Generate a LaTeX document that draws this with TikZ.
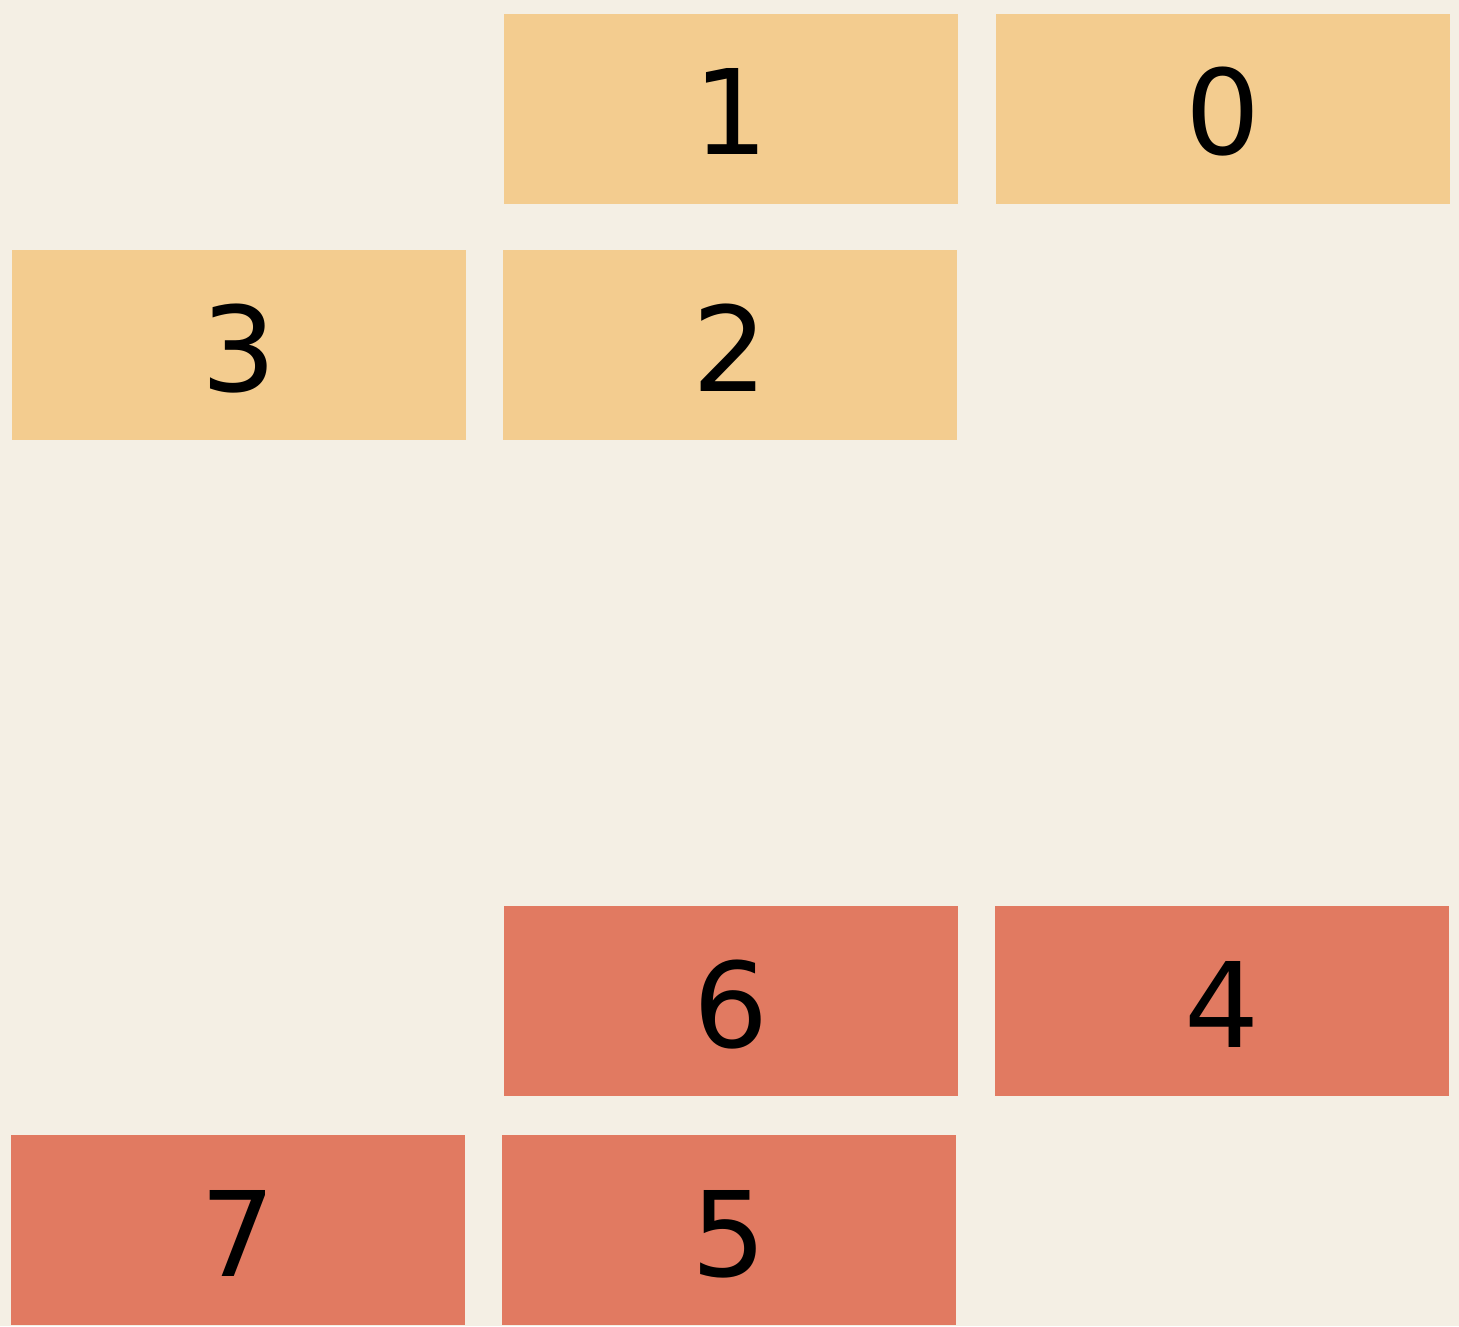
\documentclass[tikz,border=0pt]{standalone}
\usepackage{fontspec}
\setmainfont{DejaVu Sans}
\definecolor{bgc}{HTML}{F4EFE4}
\definecolor{ylw}{HTML}{F3CC8F}
\definecolor{rdc}{HTML}{E17A61}
\begin{document}
\begin{tikzpicture}[x=0.5pt,y=-0.5pt,
  cell/.style={minimum width=227pt,minimum height=95pt,inner sep=0pt,outer sep=0pt,
    text height=46pt,text depth=0pt,
    font=\fontsize{59}{59}\selectfont,text=black},
  ycell/.style={cell,fill=ylw},
  rcell/.style={cell,fill=rdc}]
\fill[bgc] (0,0) rectangle (1459,1326);
\useasboundingbox (0,0) rectangle (1459,1326);
\node[ycell] (n1) at (731,109) {1};
\node[ycell] (n0) at (1223,109) {0};
\node[ycell] (n3) at (239,345) {3};
\node[ycell] (n2) at (730,345) {2};
\node[rcell] (n6) at (731,1001) {6};
\node[rcell] (n4) at (1222,1001) {4};
\node[rcell] (n7) at (238,1230) {7};
\node[rcell] (n5) at (729,1230) {5};
\end{tikzpicture}
\end{document}
